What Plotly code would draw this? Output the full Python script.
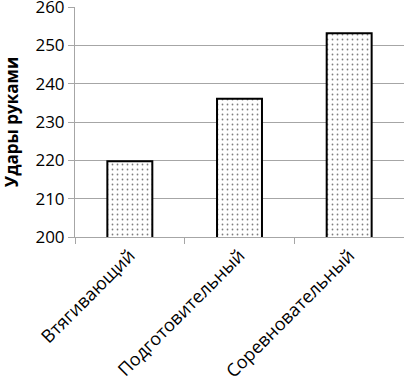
import plotly.graph_objects as go

categories = ["Втягивающий", "Подготовительный", "Соревновательный"]
values = [219.8, 236.1, 253.2]
y_ticks = [200, 210, 220, 230, 240, 250, 260]

fig = go.Figure()
fig.add_trace(go.Bar(
    x=categories, y=values, width=0.41,
    marker=dict(
        color="white",
        line=dict(color="black", width=2),
        pattern=dict(shape=".", fgcolor="black", bgcolor="white", size=5, solidity=0.1),
    ),
))
fig.update_layout(
    width=404, height=384,
    margin=dict(l=75, r=0, t=7, b=147),
    paper_bgcolor="white", plot_bgcolor="white",
    showlegend=False,
    font=dict(family="Open Sans, Liberation Sans, sans-serif", color="black", size=17),
)
fig.update_yaxes(
    range=[200, 260.02], tickvals=y_ticks, showgrid=True, gridcolor="#a6a6a6", gridwidth=1,
    showline=True, linecolor="#a6a6a6", ticks="outside", ticklen=6, tickcolor="#a6a6a6",
    tickfont=dict(size=17), zeroline=False, automargin=False, ticklabeloverflow="allow",
    title=dict(text="<b>Удары руками</b>", font=dict(size=17)),
)
fig.update_xaxes(
    showline=True, linecolor="#a6a6a6", ticks="outside", ticklen=6, tickcolor="#a6a6a6",
    tickson="boundaries", tickangle=-45, tickfont=dict(size=18), automargin=False,
    ticklabeloverflow="allow",
)
fig.write_html(
    "out.html",
    config={"displayModeBar": False},
    post_script="document.body.style.margin='0';document.body.style.padding='0';",
)
